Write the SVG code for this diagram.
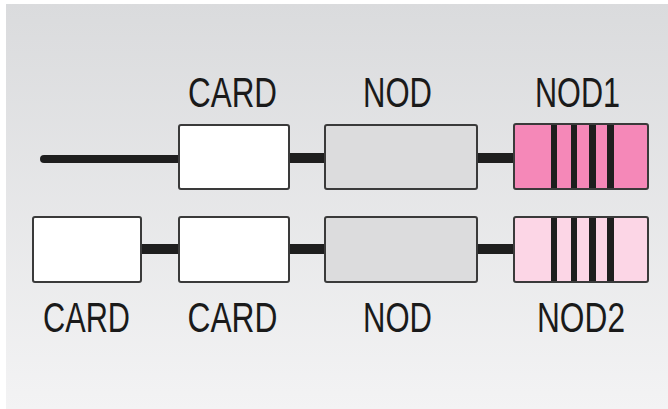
<svg xmlns="http://www.w3.org/2000/svg" width="668" height="409" viewBox="0 0 668 409">
<defs>
<linearGradient id="bg" x1="0" y1="0" x2="0" y2="1">
<stop offset="0" stop-color="#dadbdd"/>
<stop offset="1" stop-color="#f3f3f4"/>
</linearGradient>
<style>
.box{stroke:#3a3a3a;stroke-width:2}
.card{fill:#ffffff}
.nod{fill:#dcdcdd}
.nod1{fill:#f588b8}
.nod2{fill:#fcd6e6}
.bar{fill:#1e1e1e}
.lbl{font-family:"Liberation Sans",Arial,sans-serif;font-size:43px;fill:#1a1a1a;text-anchor:middle}
.conn{stroke:#1e1e1e;fill:none}
</style>
</defs>
<rect x="0" y="0" width="668" height="409" fill="#ffffff"/>
<rect x="6" y="4" width="662" height="405" fill="url(#bg)"/>
<g id="connectors">
<line class="conn" x1="44" y1="159" x2="180" y2="159" stroke-width="8" stroke-linecap="round"/>
<line class="conn" x1="289" y1="158" x2="325" y2="158" stroke-width="10"/>
<line class="conn" x1="477" y1="158" x2="514" y2="158" stroke-width="10"/>
<line class="conn" x1="141" y1="249" x2="179" y2="249" stroke-width="10"/>
<line class="conn" x1="289" y1="249" x2="325" y2="249" stroke-width="10"/>
<line class="conn" x1="477" y1="249" x2="514" y2="249" stroke-width="10"/>
</g>
<g id="card-top">
<rect class="box card" x="179" y="125" width="110" height="64" rx="2"/>
<text class="lbl" x="232.5" y="107" textLength="89" lengthAdjust="spacingAndGlyphs">CARD</text>
</g>
<g id="nod-top">
<rect class="box nod" x="325" y="125" width="152" height="64" rx="2"/>
<text class="lbl" x="397.5" y="107" textLength="69" lengthAdjust="spacingAndGlyphs">NOD</text>
</g>
<g id="nod1">
<rect class="box nod1" x="514" y="124" width="134" height="65" rx="2"/>
<rect class="bar" x="551" y="125" width="6" height="63"/>
<rect class="bar" x="571" y="125" width="6" height="63"/>
<rect class="bar" x="589" y="125" width="7" height="63"/>
<rect class="bar" x="607" y="125" width="7" height="63"/>
<text class="lbl" x="577.5" y="107" textLength="85" lengthAdjust="spacingAndGlyphs">NOD1</text>
</g>
<g id="card-left">
<rect class="box card" x="33" y="217" width="108" height="65" rx="2"/>
<text class="lbl" x="86.5" y="332" textLength="87" lengthAdjust="spacingAndGlyphs">CARD</text>
</g>
<g id="card-bottom">
<rect class="box card" x="179" y="217" width="110" height="65" rx="2"/>
<text class="lbl" x="232.5" y="332" textLength="90" lengthAdjust="spacingAndGlyphs">CARD</text>
</g>
<g id="nod-bottom">
<rect class="box nod" x="325" y="217" width="152" height="65" rx="2"/>
<text class="lbl" x="397.5" y="332" textLength="69" lengthAdjust="spacingAndGlyphs">NOD</text>
</g>
<g id="nod2">
<rect class="box nod2" x="514" y="217" width="134" height="65" rx="2"/>
<rect class="bar" x="551" y="218" width="6" height="63"/>
<rect class="bar" x="571" y="218" width="6" height="63"/>
<rect class="bar" x="589" y="218" width="7" height="63"/>
<rect class="bar" x="607" y="218" width="7" height="63"/>
<text class="lbl" x="581" y="332" textLength="88" lengthAdjust="spacingAndGlyphs">NOD2</text>
</g>
</svg>
